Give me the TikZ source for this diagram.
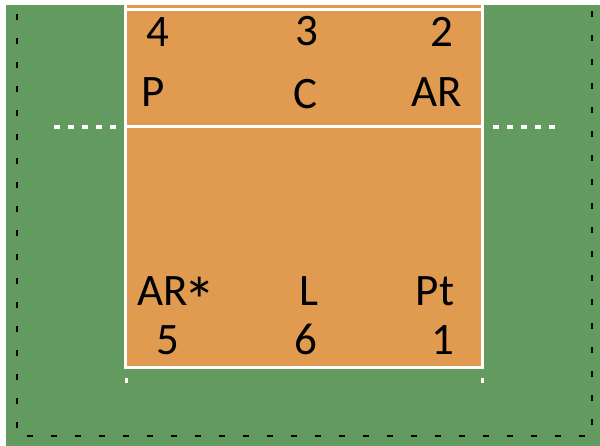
\documentclass[tikz,border=0pt]{standalone}
\usepackage{fontspec}
\setmainfont{Carlito}
\definecolor{fieldgreen}{RGB}{98,154,96}
\definecolor{courtorange}{RGB}{224,155,80}
\newcommand{\bigstar}{\kern-0.1em\raisebox{-0.38em}[0.64em][0pt]{\scalebox{1.45}{*}}}
\begin{document}
\begin{tikzpicture}[x=1pt,y=-1pt,
  lbl/.style={anchor=base,inner sep=0pt,font=\fontsize{45}{45}\selectfont,text=black},
  whiteline/.style={draw=white,line width=3pt},
  attackdash/.style={draw=white,line width=4pt,dash pattern=on 6pt off 8pt},
  border/.style={draw=black,line width=2.5pt,dash pattern=on 6pt off 18pt,dash phase=15pt}]
\useasboundingbox (0,0) rectangle (600,446);
\fill[fieldgreen] (6,5) rectangle (600,446);
\draw[border] (17,5) -- (17,436) -- (592,436) -- (592,5);
% court
\fill[courtorange] (125.5,5) rectangle (482.5,367.5);
\draw[whiteline] (125.5,5) -- (125.5,367.5) -- (482.5,367.5) -- (482.5,5);
\draw[whiteline] (125.5,9.5) -- (482.5,9.5);
\draw[whiteline] (125.5,127) -- (482.5,127);
\draw[attackdash] (54,127) -- (116,127);
\draw[attackdash] (493,127) -- (555,127);
\fill[white] (125,378) rectangle (128,383);
\fill[white] (481,378) rectangle (484,383);
% labels
\node[lbl] (n4) at (158,46.5) {4};
\node[lbl] (n3) at (306.5,46) {3};
\node[lbl] (n2) at (442,46.5) {2};
\node[lbl] (p) at (153,106.5) {P};
\node[lbl] (c) at (305,109) {C};
\node[lbl] (ar) at (437,106.5) {AR};
\node[lbl] (ars) at (177,306) {AR\bigstar};
\node[lbl] (l) at (309,306) {L};
\node[lbl] (pt) at (435,306) {Pt};
\node[lbl] (n5) at (168,355) {5};
\node[lbl] (n6) at (305.5,355) {6};
\node[lbl] (n1) at (443,355) {1};
\end{tikzpicture}
\end{document}
